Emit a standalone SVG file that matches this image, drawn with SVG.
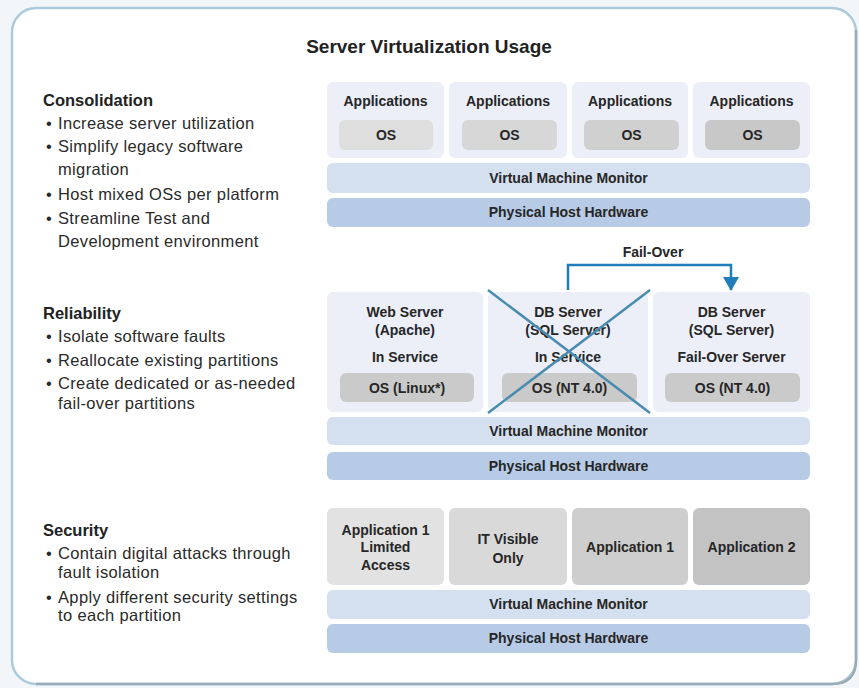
<svg xmlns="http://www.w3.org/2000/svg" width="859" height="688" viewBox="0 0 859 688">
  <style>
    text { font-family: "Liberation Sans", Arial, sans-serif; fill: #222; }
    .title { font-size: 19px; font-weight: bold; text-anchor: middle; }
    .head { font-size: 16.5px; font-weight: bold; }
    .body { font-size: 16.5px; letter-spacing: 0.35px; fill: #2a2a2a; }
    .lbl { font-size: 14px; font-weight: bold; text-anchor: middle; fill: #262626; }
    .cell { fill: #eceff8; }
    .vmm { fill: #d4dff0; }
    .phh { fill: #b7cbe7; }
    .cross { stroke: #4a8bb0; stroke-width: 2.5; fill: none; }
    .flow { stroke: #1f7dba; stroke-width: 2.5; fill: none; }
  </style>
  <defs>
    <marker id="arrowHead" viewBox="0 0 14 16" refX="13" refY="8" markerWidth="14" markerHeight="16" markerUnits="userSpaceOnUse" orient="auto">
      <path d="M0 0 L14 8 L0 16 Z" fill="#1f7dba"/>
    </marker>
  </defs>

  <!-- page background and framed panel -->
  <rect x="0" y="0" width="859" height="688" fill="#f3f6f8"/>
  <rect x="12" y="8" width="844" height="676" rx="24" fill="#ffffff" stroke="#abcadb" stroke-width="2.5"/>
  <path d="M856 30 V660 Q856 684 832 684 H36" fill="none" stroke="#98abb6" stroke-width="2.5"/>

  <text class="title" x="429" y="53">Server Virtualization Usage</text>

  <!-- left-hand descriptions -->
  <g id="consolidation-text">
    <text class="head" x="43" y="106">Consolidation</text>
    <text class="body" x="46" y="129">•</text><text class="body" x="58" y="129">Increase server utilization</text>
    <text class="body" x="46" y="152">•</text><text class="body" x="58" y="152">Simplify legacy software</text>
    <text class="body" x="58" y="175">migration</text>
    <text class="body" x="46" y="200">•</text><text class="body" x="58" y="200">Host mixed OSs per platform</text>
    <text class="body" x="46" y="224">•</text><text class="body" x="58" y="224">Streamline Test and</text>
    <text class="body" x="58" y="247">Development environment</text>
  </g>
  <g id="reliability-text">
    <text class="head" x="43" y="319">Reliability</text>
    <text class="body" x="46" y="342">•</text><text class="body" x="58" y="342">Isolate software faults</text>
    <text class="body" x="46" y="366">•</text><text class="body" x="58" y="366">Reallocate existing partitions</text>
    <text class="body" x="46" y="389">•</text><text class="body" x="58" y="389">Create dedicated or as-needed</text>
    <text class="body" x="58" y="409">fail-over partitions</text>
  </g>
  <g id="security-text">
    <text class="head" x="43" y="536">Security</text>
    <text class="body" x="46" y="559">•</text><text class="body" x="58" y="559">Contain digital attacks through</text>
    <text class="body" x="58" y="578">fault isolation</text>
    <text class="body" x="46" y="603">•</text><text class="body" x="58" y="603">Apply different security settings</text>
    <text class="body" x="58" y="621">to each partition</text>
  </g>

  <!-- consolidation stack -->
  <g id="vm-a1"><rect class="cell" x="327" y="82" width="117" height="76" rx="6"/><text class="lbl" x="385.5" y="106">Applications</text><rect x="339" y="120" width="94" height="30" rx="6" fill="#dedede"/><text class="lbl" x="386" y="140">OS</text></g>
  <g id="vm-a2"><rect class="cell" x="449" y="82" width="118" height="76" rx="6"/><text class="lbl" x="508" y="106">Applications</text><rect x="462" y="120" width="95" height="30" rx="6" fill="#d7d7d7"/><text class="lbl" x="509.5" y="140">OS</text></g>
  <g id="vm-a3"><rect class="cell" x="572" y="82" width="116" height="76" rx="6"/><text class="lbl" x="630" y="106">Applications</text><rect x="584" y="120" width="95" height="30" rx="6" fill="#d0d0d0"/><text class="lbl" x="631.5" y="140">OS</text></g>
  <g id="vm-a4"><rect class="cell" x="693" y="82" width="117" height="76" rx="6"/><text class="lbl" x="751.5" y="106">Applications</text><rect x="705" y="120" width="95" height="30" rx="6" fill="#c8c8c8"/><text class="lbl" x="752.5" y="140">OS</text></g>
  <g id="vmm-a"><rect class="vmm" x="327" y="163" width="483" height="30" rx="6"/><text class="lbl" x="568.5" y="183">Virtual Machine Monitor</text></g>
  <g id="hw-a"><rect class="phh" x="327" y="198" width="483" height="29" rx="6"/><text class="lbl" x="568.5" y="217">Physical Host Hardware</text></g>

  <!-- reliability stack -->
  <g id="vm-b1"><rect class="cell" x="327" y="292" width="156" height="120" rx="6"/>
    <text class="lbl" x="405" y="317">Web Server</text><text class="lbl" x="405" y="335">(Apache)</text><text class="lbl" x="405" y="362">In Service</text>
    <rect x="340" y="373" width="134" height="29" rx="6" fill="#cacaca"/><text class="lbl" x="407" y="393">OS (Linux*)</text></g>
  <g id="vm-b2"><rect class="cell" x="488" y="292" width="160" height="120" rx="6"/>
    <text class="lbl" x="568" y="317">DB Server</text><text class="lbl" x="568" y="335">(SQL Server)</text><text class="lbl" x="568" y="362">In Service</text>
    <rect x="502" y="373" width="135" height="29" rx="6" fill="#cacaca"/><text class="lbl" x="569.5" y="393">OS (NT 4.0)</text></g>
  <g id="vm-b3"><rect class="cell" x="653" y="292" width="157" height="120" rx="6"/>
    <text class="lbl" x="731.5" y="317">DB Server</text><text class="lbl" x="731.5" y="335">(SQL Server)</text><text class="lbl" x="731.5" y="362">Fail-Over Server</text>
    <rect x="665" y="373" width="135" height="29" rx="6" fill="#cacaca"/><text class="lbl" x="732.5" y="393">OS (NT 4.0)</text></g>
  <g id="vmm-b"><rect class="vmm" x="327" y="417" width="483" height="28" rx="6"/><text class="lbl" x="568.5" y="436">Virtual Machine Monitor</text></g>
  <g id="hw-b"><rect class="phh" x="327" y="452" width="483" height="28" rx="6"/><text class="lbl" x="568.5" y="471">Physical Host Hardware</text></g>

  <!-- security stack -->
  <g id="vm-c1"><rect x="327" y="508" width="117" height="77" rx="6" fill="#e2e2e2"/><text class="lbl" x="385.5" y="535">Application 1</text><text class="lbl" x="385.5" y="552">Limited</text><text class="lbl" x="385.5" y="570">Access</text></g>
  <g id="vm-c2"><rect x="449" y="508" width="118" height="77" rx="6" fill="#d9d9d9"/><text class="lbl" x="508" y="544">IT Visible</text><text class="lbl" x="508" y="563">Only</text></g>
  <g id="vm-c3"><rect x="572" y="508" width="116" height="77" rx="6" fill="#cecece"/><text class="lbl" x="630" y="552">Application 1</text></g>
  <g id="vm-c4"><rect x="693" y="508" width="117" height="77" rx="6" fill="#c3c3c3"/><text class="lbl" x="751.5" y="552">Application 2</text></g>
  <g id="vmm-c"><rect class="vmm" x="327" y="590" width="483" height="29" rx="6"/><text class="lbl" x="568.5" y="609">Virtual Machine Monitor</text></g>
  <g id="hw-c"><rect class="phh" x="327" y="624" width="483" height="29" rx="6"/><text class="lbl" x="568.5" y="643">Physical Host Hardware</text></g>

  <!-- connectors -->
  <g id="connectors">
    <path class="flow" d="M568 290 V265 H731 V290" marker-end="url(#arrowHead)"/>
    <text class="lbl" x="653" y="257">Fail-Over</text>
    <path class="cross" d="M488 290 L650 413 M650 290 L488 413"/>
  </g>
</svg>
